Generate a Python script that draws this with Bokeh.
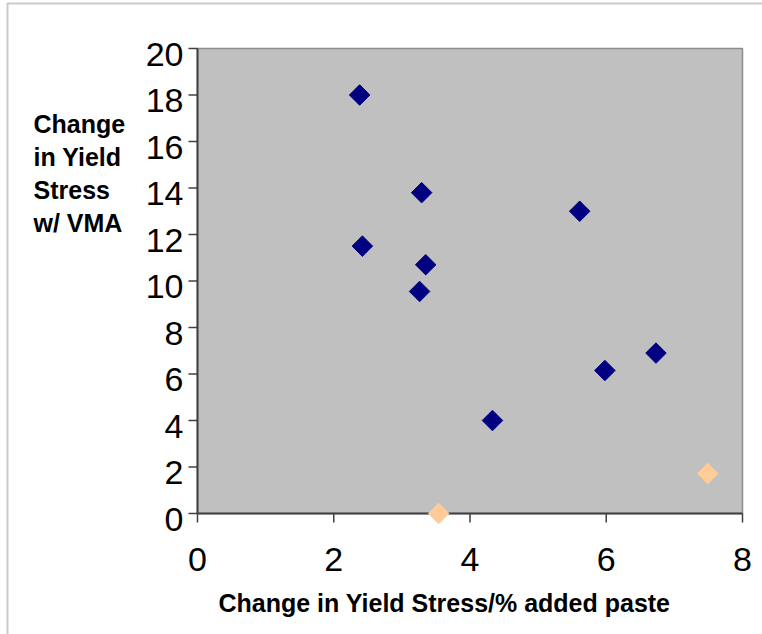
from bokeh.plotting import figure
from bokeh.models import Label, BoxAnnotation, Range1d
from bokeh.core.properties import value
from bokeh.embed import file_html
from bokeh.resources import INLINE
import math

# Change in yield stress per % added paste (x) vs change in yield stress with VMA (y)
x_main = [2.38, 3.29, 2.42, 3.35, 3.26, 5.61, 5.98, 6.73, 4.33]
y_main = [18.0, 13.8, 11.5, 10.7, 9.55, 13.0, 6.15, 6.9, 4.0]
x_alt = [3.54, 7.49]
y_alt = [0.0, 1.72]
x_ticks = [0, 2, 4, 6, 8]
y_ticks = [0, 2, 4, 6, 8, 10, 12, 14, 16, 18, 20]
x_title = "Change in Yield Stress/% added paste"
y_title = ["Change", "in Yield", "Stress", "w/ VMA"]

FONT = "Liberation Sans"
AXIS = "#404040"

# the frame fills the whole canvas; the plotting area (0..8, 0..20) sits inside it
p = figure(width=762, height=634, output_backend="svg", toolbar_location=None,
           x_range=Range1d(-2.8917, 8.2936), y_range=Range1d(-5.2043, 22.0645),
           x_axis_location=None, y_axis_location=None,
           min_border=0)
p.background_fill_color = "white"
p.border_fill_color = "white"
p.outline_line_color = None
p.grid.visible = False

x0, x1 = x_ticks[0], x_ticks[-1]
y0, y1 = y_ticks[0], y_ticks[-1]

# gray plotting area with light top/right border
p.quad(left=x0, right=x1, bottom=y0, top=y1,
       fill_color="#C0C0C0", line_color="#8C8C8C", line_width=1.5)

# axis lines
p.segment(x0=[x0, x0], y0=[y0, y0], x1=[x1, x0], y1=[y0, y1],
          line_color=AXIS, line_width=2)

# tick marks (outside)
p.ray(x=[x0] * len(y_ticks), y=y_ticks, length=9, length_units="screen",
      angle=math.pi, line_color=AXIS, line_width=1.5)
p.ray(x=x_ticks, y=[y0] * len(x_ticks), length=9, length_units="screen",
      angle=-math.pi / 2, line_color=AXIS, line_width=1.5)

# tick labels
p.text(x=[x0] * len(y_ticks), y=y_ticks, text=[str(t) for t in y_ticks],
       x_offset=-14, y_offset=6, text_align="right", text_baseline="alphabetic",
       text_font=value(FONT), text_font_size="34px", text_color="black")
p.text(x=x_ticks, y=[y0] * len(x_ticks), text=[str(t) for t in x_ticks],
       x_offset=0, y_offset=46, text_align="center", text_baseline="alphabetic",
       text_font=value(FONT), text_font_size="34px", text_color="black")

# diamonds: squares rotated 45 degrees
p.scatter(x_main, y_main, marker="square", size=14.5, angle=math.pi / 4,
          fill_color="#000080", line_color="#000080")
p.scatter(x_alt, y_alt, marker="square", size=14.5, angle=math.pi / 4,
          fill_color="#FFCC99", line_color="#FFCC99")

# axis titles
p.add_layout(Label(x=218, y=32, x_units="screen", y_units="screen",
                   text=x_title, text_font=FONT, text_font_style="bold",
                   text_baseline="alphabetic", text_font_size="25px",
                   text_color="black"))
for i, line in enumerate(y_title):
    p.add_layout(Label(x=33, y=511 - 33 * i, x_units="screen", y_units="screen",
                       text=line, text_font=FONT, text_font_style="bold",
                       text_baseline="alphabetic", text_font_size="25px",
                       text_color="black"))

# outer chart border
p.add_layout(BoxAnnotation(left=7, right=800, top=631, bottom=-50,
                           left_units="screen", right_units="screen",
                           top_units="screen", bottom_units="screen",
                           fill_color=None, fill_alpha=0,
                           line_color="#505050", line_width=2))

open("out.html", "w").write(file_html(p, INLINE))
